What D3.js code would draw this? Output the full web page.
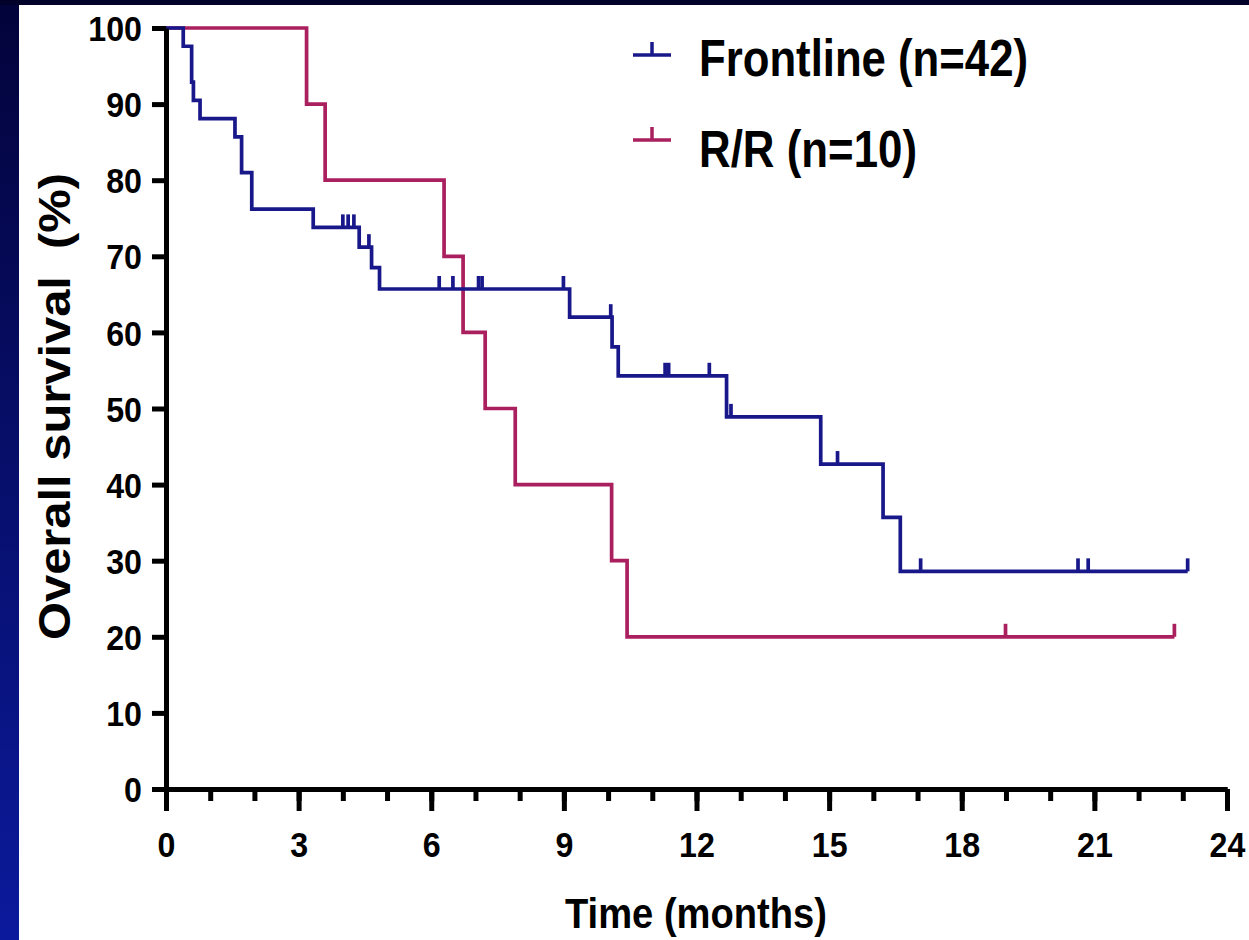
<!DOCTYPE html>
<html>
<head>
<meta charset="utf-8">
<script src="https://cdn.jsdelivr.net/npm/d3@7"></script>
<style>
  body { margin: 0; background: #ffffff; }
  svg { display: block; }
  .axis path, .axis line { stroke: #000; stroke-width: 5; }
  .axis text { font-family: "Liberation Sans", Arial, sans-serif; font-weight: bold; font-size: 35px; fill: #000; }
</style>
</head>
<body>
<div id="chart"></div>
<script>
// Frontline arm: drop times (months) and survival (%) after each drop
var frontTimes = [0.39, 0.58, 0.62, 0.77, 1.56, 1.71, 1.94, 3.33, 4.37, 4.65, 4.83, 9.13, 10.09, 10.23, 12.68, 14.81, 16.22, 16.61];
var frontSurv  = [97.6, 92.9, 90.5, 88.1, 85.7, 81.0, 76.2, 73.8, 71.2, 68.5, 65.7, 62.0, 58.1, 54.3, 48.9, 42.7, 35.7, 28.6];
var frontCensor = [4.0, 4.12, 4.25, 4.59, 6.18, 6.49, 7.07, 7.15, 8.99, 10.06, 11.29, 11.37, 12.29, 12.78, 15.19, 17.07, 20.63, 20.86, 23.11];
var frontEnd = 23.11;

// R/R arm
var rrTimes = [3.18, 3.6, 6.29, 6.72, 7.22, 7.9, 10.08, 10.43];
var rrSurv  = [90, 80, 70, 60, 50, 40, 30, 20];
var rrCensor = [18.99, 22.81];
var rrEnd = 22.81;

var seriesNames = ["Frontline (n=42)", "R/R (n=10)"];
var xTicks = [0, 3, 6, 9, 12, 15, 18, 21, 24];
var xMinorTicks = d3.range(0, 25, 1);
var yTicks = [0, 10, 20, 30, 40, 50, 60, 70, 80, 90, 100];

var blue = "#19188b";
var red = "#aa1f5d";

var width = 1249;
var height = 940;

var svg = d3.select("#chart")
    .append("svg")
    .attr("width", width)
    .attr("height", height);

// dark frame on top and left
var defs = svg.append("defs");
var grad = defs.append("linearGradient")
    .attr("id", "sideGrad")
    .attr("x1", 0).attr("y1", 0).attr("x2", 0).attr("y2", 1);
grad.append("stop").attr("offset", "0%").attr("stop-color", "#03033a");
grad.append("stop").attr("offset", "100%").attr("stop-color", "#0b1a9c");

svg.append("rect").attr("x", 0).attr("y", 0).attr("width", 19).attr("height", height).attr("fill", "url(#sideGrad)");
svg.append("rect").attr("x", 0).attr("y", 0).attr("width", width).attr("height", 5).attr("fill", "#01012a");

var x = d3.scaleLinear().domain([0, 24]).range([166, 1227]);
var y = d3.scaleLinear().domain([0, 100]).range([789, 28]);

// curves first so the axes sit on top of them
function kmPoints(times, surv, endT) {
  var pts = [[0, 100]];
  times.forEach(function(t, i) { pts.push([t, surv[i]]); });
  pts.push([endT, surv[surv.length - 1]]);
  return pts;
}

function survAt(times, surv, t) {
  var s = 100;
  times.forEach(function(d, i) { if (d <= t) s = surv[i]; });
  return s;
}

var line = d3.line()
    .x(function(d) { return x(d[0]); })
    .y(function(d) { return y(d[1]); })
    .curve(d3.curveStepAfter);

function drawArm(times, surv, censor, endT, color) {
  var g = svg.append("g");
  g.append("path")
      .datum(kmPoints(times, surv, endT))
      .attr("d", line)
      .attr("fill", "none")
      .attr("stroke", color)
      .attr("stroke-width", 3.7);

  g.selectAll("line.censor")
      .data(censor)
      .enter().append("line")
      .attr("class", "censor")
      .attr("x1", function(d) { return x(d); })
      .attr("x2", function(d) { return x(d); })
      .attr("y1", function(d) { return y(survAt(times, surv, d)); })
      .attr("y2", function(d) { return y(survAt(times, surv, d)) - 13; })
      .attr("stroke", color)
      .attr("stroke-width", 3.7);
}

drawArm(rrTimes, rrSurv, rrCensor, rrEnd, red);
drawArm(frontTimes, frontSurv, frontCensor, frontEnd, blue);

// x axis: minor ticks each month, labelled ticks every 3
svg.append("g")
    .attr("class", "axis")
    .attr("transform", "translate(0," + y(0) + ")")
    .call(d3.axisBottom(x).tickValues(xMinorTicks).tickSize(12).tickSizeOuter(0).tickFormat(""));

var xAxis = svg.append("g")
    .attr("class", "axis")
    .attr("transform", "translate(0," + y(0) + ")")
    .call(d3.axisBottom(x).tickValues(xTicks).tickSize(22).tickSizeOuter(0));

// condensed labels, like the original figure
xAxis.selectAll(".tick text")
    .attr("y", 0)
    .attr("dy", 0)
    .attr("transform", "translate(0,68) scale(0.92,1)");

var yAxis = svg.append("g")
    .attr("class", "axis")
    .attr("transform", "translate(" + x(0) + ",0)")
    .call(d3.axisLeft(y).tickValues(yTicks).tickSize(14).tickSizeOuter(0));

yAxis.selectAll(".tick text")
    .attr("x", 0)
    .attr("dy", "0.36em")
    .attr("transform", "translate(-24,0) scale(0.92,1)");

// axis titles
svg.append("text")
    .attr("transform", "translate(70," + ((y(100) + y(0)) / 2 - 2) + ") rotate(-90)")
    .attr("text-anchor", "middle")
    .attr("font-family", "Liberation Sans, Arial, sans-serif")
    .attr("font-weight", "bold")
    .attr("font-size", "45px")
    .attr("textLength", 467)
    .attr("lengthAdjust", "spacingAndGlyphs")
    .style("white-space", "pre")
    .text("Overall survival  (%)");

svg.append("text")
    .attr("x", 696)
    .attr("y", 928)
    .attr("text-anchor", "middle")
    .attr("font-family", "Liberation Sans, Arial, sans-serif")
    .attr("font-weight", "bold")
    .attr("font-size", "43px")
    .attr("textLength", 262)
    .attr("lengthAdjust", "spacingAndGlyphs")
    .text("Time (months)");

// legend
var legendColors = [blue, red];
var legendY = [55, 140];
var legendLen = [329, 218];

var legend = svg.selectAll("g.legend")
    .data(seriesNames)
    .enter().append("g")
    .attr("class", "legend")
    .attr("transform", function(d, i) { return "translate(633," + legendY[i] + ")"; });

legend.append("line")
    .attr("x1", 0).attr("x2", 38)
    .attr("y1", 0).attr("y2", 0)
    .attr("stroke", function(d, i) { return legendColors[i]; })
    .attr("stroke-width", 3.5);

legend.append("line")
    .attr("x1", 19).attr("x2", 19)
    .attr("y1", 0).attr("y2", -13)
    .attr("stroke", function(d, i) { return legendColors[i]; })
    .attr("stroke-width", 3.5);

legend.append("text")
    .attr("x", 66)
    .attr("y", function(d, i) { return i == 0 ? 21 : 27; })
    .attr("font-family", "Liberation Sans, Arial, sans-serif")
    .attr("font-weight", "bold")
    .attr("font-size", "52px")
    .attr("textLength", function(d, i) { return legendLen[i]; })
    .attr("lengthAdjust", "spacingAndGlyphs")
    .text(function(d) { return d; });
</script>
</body>
</html>
